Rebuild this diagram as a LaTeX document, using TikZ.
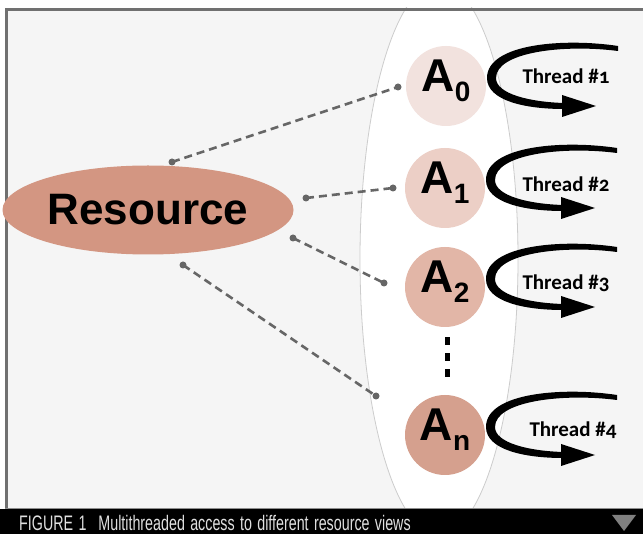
\documentclass[tikz,border=0pt]{standalone}
\usepackage{fontspec}
\setmainfont{Liberation Sans}
\newfontfamily\threadfont[Numbers=OldStyle]{Carlito}
\newfontfamily\capfont[FakeStretch=0.68,WordSpace=1.35]{Liberation Sans}
\usetikzlibrary{shapes.geometric}

\definecolor{paneback}{HTML}{F5F5F5}
\definecolor{framegray}{HTML}{707070}
\definecolor{linkgray}{HTML}{666666}
\definecolor{rescolor}{HTML}{D39682}
\definecolor{viewa}{HTML}{F2E2DE}
\definecolor{viewb}{HTML}{ECCFC6}
\definecolor{viewc}{HTML}{E2B6A7}
\definecolor{viewd}{HTML}{D5A08E}

\newcommand{\viewname}[1]{A{\fontsize{28}{28}\selectfont\raisebox{-10pt}{#1}}}

\tikzset{
  view/.style={circle, minimum size=80pt, inner sep=0pt,
    text height=33pt, text depth=21pt,
    font=\fontsize{46}{46}\selectfont\bfseries},
  link/.style={draw=linkgray, line width=2.6pt, dash pattern=on 8pt off 5pt},
  tip/.style={circle, fill=linkgray, inner sep=0pt, minimum size=7pt},
  threadlabel/.style={font=\threadfont\bfseries\fontsize{21}{21}\selectfont},
  threadloop/.pic={
    % tapered loop
    \fill (172,-40) .. controls (120,-48) and (41,-43) .. (41,-8)
      .. controls (41,15) and (80,23) .. (118,23) -- (118,17)
      .. controls (84,16) and (50,8) .. (50,-8)
      .. controls (50,-34) and (118,-42) .. (172,-35) -- cycle;
    % arrow head
    \fill (116,9) -- (150,20) -- (116,31) -- cycle;
  },
}

\begin{document}
\begin{tikzpicture}[x=1pt, y=-1pt]

  \useasboundingbox (0,0) rectangle (643,534);
  \fill[white] (0,0) rectangle (643,534);

  % pane and frame
  \fill[paneback] (5,8) rectangle (643,508);
  \begin{scope}
    \clip (5,8) rectangle (643,508);
    \draw[fill=white, draw=black!20, line width=0.8pt] (439,259) ellipse (79 and 276);
  \end{scope}
  \draw[framegray, line width=3pt] (643,9.5) -- (6.5,9.5) -- (6.5,510);

  % caption bar
  \fill[black] (0,509) rectangle (643,534);
  \draw[framegray!80, line width=1.5pt] (5,508.5) -- (643,508.5);
  \node[anchor=base west, text=black!12, inner sep=0pt, font=\capfont\fontsize{21}{21}\selectfont]
    (caption) at (19,531) {FIGURE 1\hspace{12pt}Multithreaded access to different resource views};
  \fill[black!50] (612,515) -- (636,515) -- (624,531) -- cycle;

  % resource
  \node[ellipse, fill=rescolor, minimum width=291pt, minimum height=89pt, inner sep=0pt,
    font=\fontsize{44}{44}\selectfont\bfseries] (res) at (148,210) {Resource};

  % views
  \node[view, fill=viewa] (a0) at (446,86) {\viewname{0}};
  \node[view, fill=viewb] (a1) at (445,188) {\viewname{1}};
  \node[view, fill=viewc] (a2) at (445,287) {\viewname{2}};
  \node[view, fill=viewd] (an) at (445,435) {\viewname{n}};

  % dots
  \fill (444.5,337) rectangle (449.5,345);
  \fill (444.5,353) rectangle (449.5,361);
  \fill (444.5,369) rectangle (449.5,377);

  % links
  \node[tip] (r0) at (172,162) {};
  \node[tip] (e0) at (398,87) {};
  \node[tip] (r1) at (306,198) {};
  \node[tip] (e1) at (393,188) {};
  \node[tip] (r2) at (293,238) {};
  \node[tip] (e2) at (384,283) {};
  \node[tip] (r3) at (183,265) {};
  \node[tip] (e3) at (376,396) {};
  \draw[link] (r0.center) -- (e0.center);
  \draw[link] (r1.center) -- (e1.center);
  \draw[link] (r2.center) -- (e2.center);
  \draw[link] (r3.center) -- (e3.center);

  % threads
  \pic at (a0.center) {threadloop};
  \pic at (a1.center) {threadloop};
  \pic at (a2.center) {threadloop};
  \pic at (an.center) {threadloop};
  \node[threadlabel] (t1) at (566,76) {Thread \#1};
  \node[threadlabel] (t2) at (566,184) {Thread \#2};
  \node[threadlabel] (t3) at (566,283) {Thread \#3};
  \node[threadlabel] (t4) at (573,430) {Thread \#4};

\end{tikzpicture}
\end{document}
